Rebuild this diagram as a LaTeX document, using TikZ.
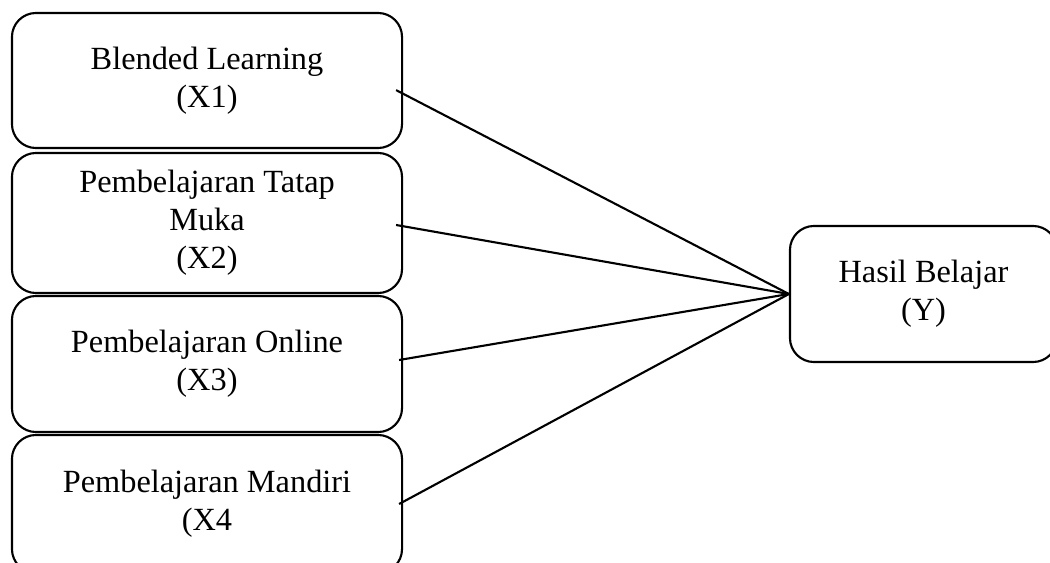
\documentclass[tikz,border=0pt]{standalone}
\usepackage{fontspec}
\setmainfont{Liberation Serif}
\usetikzlibrary{positioning}

\begin{document}
\begin{tikzpicture}[x=0.025cm, y=-0.025cm,
		varbox/.style={draw, line width=1.5pt, rounded corners=0.6cm, align=center,
			minimum width=9.75cm, font=\fontsize{23}{27}\selectfont},
		link/.style={line width=1.5pt}]
		%%%%% START %%%%%
		
		\useasboundingbox (0, 0) rectangle (1050, 563);
		
		\node[varbox, minimum height=3.375cm] (x1) at (207, 80.5) {Blended Learning\\(X1)};
		\node[varbox, minimum height=3.5cm] (x2) at (207, 223) {Pembelajaran Tatap\\Muka\\(X2)};
		\node[varbox, minimum height=3.4cm] (x3) at (207, 364) {Pembelajaran Online\\(X3)};
		\node[varbox, minimum height=3.45cm] (x4) at (207, 504) {Pembelajaran Mandiri\\(X4};
		
		\node[varbox, minimum width=6.675cm, minimum height=3.4cm] (y) at (923.5, 294) {Hasil Belajar\\(Y)};
		
		\draw[link] ([xshift=-0.175cm, yshift=-0.24cm]x1.east) -- (y.west);
		\draw[link] ([xshift=-0.175cm, yshift=-0.05cm]x2.east) -- (y.west);
		\draw[link] ([xshift=-0.1cm, yshift=0.1cm]x3.east) -- (y.west);
		\draw[link] ([xshift=-0.1cm]x4.east) -- (y.west);
		
		%%%%% END %%%%%
	\end{tikzpicture}
\end{document}
